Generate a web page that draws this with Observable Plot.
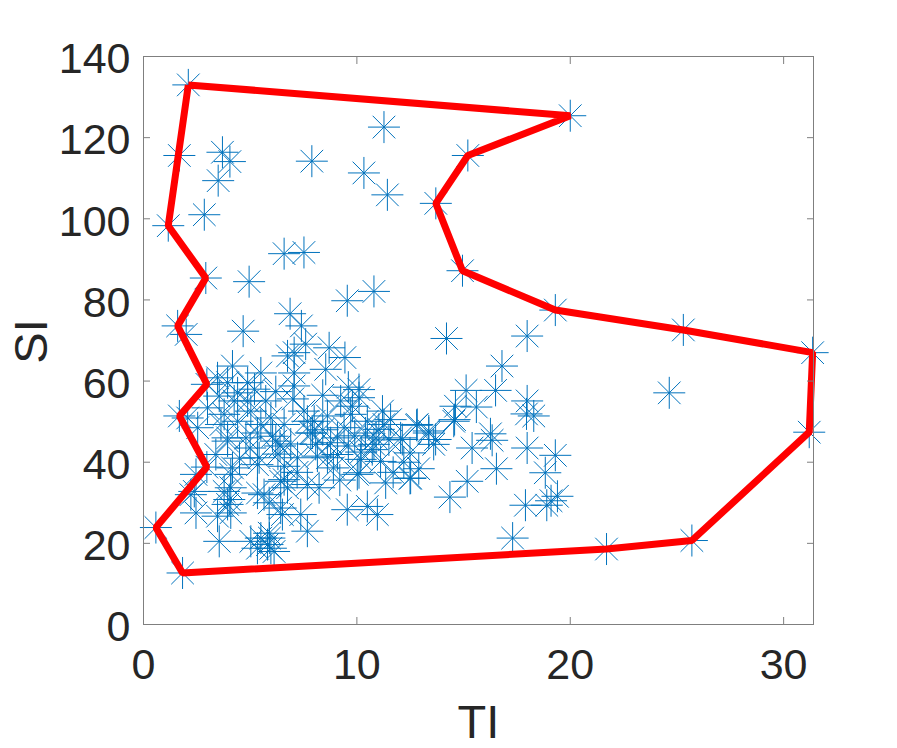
<!DOCTYPE html>
<html>
<head>
<meta charset="utf-8">
<script src="https://cdn.jsdelivr.net/npm/d3@7"></script>
<script src="https://cdn.jsdelivr.net/npm/@observablehq/plot@0.6"></script>
<style>
  html, body { margin: 0; padding: 0; background: #fff; }
</style>
</head>
<body>
<div id="chart"></div>
<script>
// Scatter points (TI, SI)
const TI = [
  2.1, 20.0, 11.27, 1.68, 3.7, 4.05, 3.5, 7.89, 10.33, 11.43, 15.2, 13.7, 2.85, 1.16, 6.59, 7.52, 2.92, 4.95, 14.95, 9.55, 10.8, 1.6, 2.0, 6.87, 7.4, 4.67, 14.2,
  19.3, 25.3, 31.36, 31.2, 25.7, 21.7, 17.98, 16.8, 24.64, 15.12, 16.5, 14.62, 15.6, 14.58, 17.98, 17.95, 18.29, 12.8, 13.37, 12.13, 13.69, 16.26, 16.34, 15.4, 17.98, 19.3, 12.49, 12.9, 16.54, 18.83, 12.49, 15.17, 14.36, 17.9, 18.9, 19.4, 19.1, 17.3,
  7.6, 6.75, 7.06, 5.5, 4.17, 7.06, 3.47, 3.94, 3.55, 4.41, 4.88, 5.03, 3.78, 3.0, 2.07, 2.54, 3.63, 4.41, 5.5, 6.05, 3.94, 7.68, 7.84,
  8.7, 9.44, 8.54, 10.1, 9.24, 11.2, 7.52, 8.0, 9.79, 10.49, 11.58, 11.03, 12.83, 13.37, 9.4, 14.54,
  0.58, 1.83, 3.39, 4.17, 2.38, 2.46, 3.47, 4.09, 4.02, 3.78, 3.55, 5.42, 5.65, 5.89, 6.43, 6.43, 7.37, 7.68, 6.75, 5.5, 5.9, 5.81, 6.12, 5.03, 5.34, 7.68,
  9.55, 10.49, 10.96, 12.52, 11.35, 10.1, 8.23, 13.6, 9.09, 8.15, 10.18, 11.11, 10.72,
  7.06, 4.88, 5.73, 4.25, 6.59, 8.07, 9.09, 9.71, 10.1, 11.27, 10.8, 12.05, 10.02, 6.59, 6.51, 5.34, 4.09, 3.94, 2.22, 5.89, 5.97, 2.46, 4.09, 5.34, 3.94, 4.8, 5.34, 7.22, 8.62, 8.77, 7.92, 8.62, 5.97, 1.68, 2.97, 2.97,
  9.9, 10.4, 10.9, 9.6, 11.5, 10.2, 8.4, 6.9, 6.3, 5.0, 4.5, 6.6, 7.2, 8.9, 11.7, 12.2, 9.2, 7.0, 6.2, 5.2, 8.4, 9.6, 6.2, 6.4
];
const SI = [
  133, 125.4, 122.6, 115.6, 116.4, 114.1, 109.4, 114.2, 111.3, 105.9, 115.6, 103.8, 101, 98.3, 91.4, 91.7, 85.4, 84.5, 87.2, 79.8, 82.1, 73.6, 71.5, 76.6, 73.6, 72.3, 70.5,
  77.5, 72.6, 67, 47.4, 20.7, 18.6, 71.1, 63.7, 57.1, 57.7, 57.7, 53.8, 53.6, 50.5, 55.1, 51.9, 51.4, 49.1, 47.2, 45.6, 45.6, 47, 45.4, 43.5, 43.5, 41.7, 42.3, 38.4, 38.4, 37.4, 36, 35.3, 31.4, 29.4, 29.4, 31.6, 30.5, 21.3,
  69.1, 66.2, 67, 62, 63.7, 58.8, 60.8, 59.6, 56.3, 57.1, 55.1, 52.6, 51.8, 53.4, 50.9, 48.5, 49.3, 50.1, 49.3, 46.4, 46, 50.1, 47.2,
  68.2, 65.8, 62.9, 57.9, 55.1, 52.6, 52.6, 50.1, 53.8, 50.1, 50.5, 48.1, 49.3, 47.7, 48.5, 50.1,
  23.9, 12.7, 41.9, 38.6, 32.8, 27.5, 26.7, 27.5, 30.8, 32.8, 20.5, 41.1, 32, 30, 28.7, 35.3, 27.1, 23, 33.7, 21.3, 21.3, 19.7, 18, 20.5, 18.8, 34.5,
  28.3, 29.1, 27.1, 36.1, 34.9, 37.4, 33.7, 44.4, 41.9, 41.5, 40.7, 40.2, 43.1,
  62, 59.6, 55.1, 55.1, 49.3, 44.4, 46, 51.8, 55.9, 49.3, 44.4, 46, 37, 35.7, 27.1, 32.4, 33.7, 29.6, 32, 22.5, 18.8, 37, 37, 39.4, 45.2, 46, 47.2, 41.1, 41.1, 44.8, 47.2, 51.4, 50.9, 51.4, 38.8, 59.2,
  46.5, 47.2, 46.0, 44.0, 45.5, 42.5, 48.0, 44.5, 42.0, 43.5, 41.0, 39.0, 37.5, 38.6, 37.5, 40.0, 35.6, 55.6, 57.4, 58.0, 56.5, 58.5, 45.2, 44.0
];

// Boundary polygon (closed)
const hullTI = [2.1, 20.0, 15.2, 13.7, 14.95, 19.3, 25.3, 31.36, 31.2, 25.7, 21.7, 1.83, 0.58, 2.97, 1.68, 2.97, 1.6, 2.92, 1.16, 2.1];
const hullSI = [133, 125.4, 115.6, 103.8, 87.2, 77.5, 72.6, 67, 47.4, 20.7, 18.6, 12.7, 23.9, 38.8, 51.4, 59.2, 73.6, 85.4, 98.3, 133];

// Axis ticks
const xTicks = [0, 10, 20, 30];
const yTicks = [0, 20, 40, 60, 80, 100, 120, 140];

const points = TI.map((t, i) => ({TI: t, SI: SI[i]}));
const hull = hullTI.map((t, i) => ({TI: t, SI: hullSI[i]}));

// MATLAB-style asterisk marker (+ and x combined)
const asterisk = {
  draw(context, size) {
    const r = Math.sqrt(size / Math.PI);
    const d = r * Math.SQRT1_2;
    context.moveTo(-r, 0); context.lineTo(r, 0);
    context.moveTo(0, -r); context.lineTo(0, r);
    context.moveTo(-d, -d); context.lineTo(d, d);
    context.moveTo(-d, d); context.lineTo(d, -d);
  }
};

const axisColor = "#7f7f7f";
const textColor = "#262626";

const chart = Plot.plot({
  width: 897,
  height: 748,
  marginLeft: 143,
  marginRight: 84,
  marginTop: 56,
  marginBottom: 124,
  style: {fontFamily: "'Liberation Sans', Arial, Helvetica, sans-serif", color: textColor, background: "#fff"},
  x: {domain: [0, 31.4], label: null},
  y: {domain: [0, 140], label: null},
  marks: [
    Plot.dot(points, {x: "TI", y: "SI", symbol: asterisk, r: 16, stroke: "#0072BD", strokeWidth: 1, fill: "none"}),
    Plot.line(hull, {x: "TI", y: "SI", stroke: "#FF0000", strokeWidth: 7, strokeLinejoin: "miter", strokeLinecap: "butt"}),
    Plot.frame({stroke: axisColor, strokeWidth: 1}),
    // inward tick marks on all four sides
    Plot.axisX(xTicks, {anchor: "bottom", tickSize: 7, dy: -7, tickFormat: () => "", label: null, stroke: axisColor}),
    Plot.axisX(xTicks, {anchor: "top", tickSize: 7, dy: 7, tickFormat: () => "", label: null, stroke: axisColor}),
    Plot.axisY(yTicks, {anchor: "left", tickSize: 7, dx: 7, tickFormat: () => "", label: null, stroke: axisColor}),
    Plot.axisY(yTicks, {anchor: "right", tickSize: 7, dx: -7, tickFormat: () => "", label: null, stroke: axisColor}),
    // tick labels
    Plot.axisX(xTicks, {anchor: "bottom", tickSize: 0, tickPadding: 24, fontSize: 43, label: null, fill: textColor}),
    Plot.axisY(yTicks, {anchor: "left", tickSize: 0, tickPadding: 13, dy: 3, fontSize: 43, label: null, fill: textColor}),
    // axis titles
    Plot.text(["TI"], {frameAnchor: "bottom", dy: 113, fontSize: 47, fill: textColor}),
    Plot.text(["SI"], {frameAnchor: "left", textAnchor: "middle", dx: -111.5, dy: 1, rotate: -90, fontSize: 47, fill: textColor})
  ]
});

document.getElementById("chart").appendChild(chart);
</script>
</body>
</html>
